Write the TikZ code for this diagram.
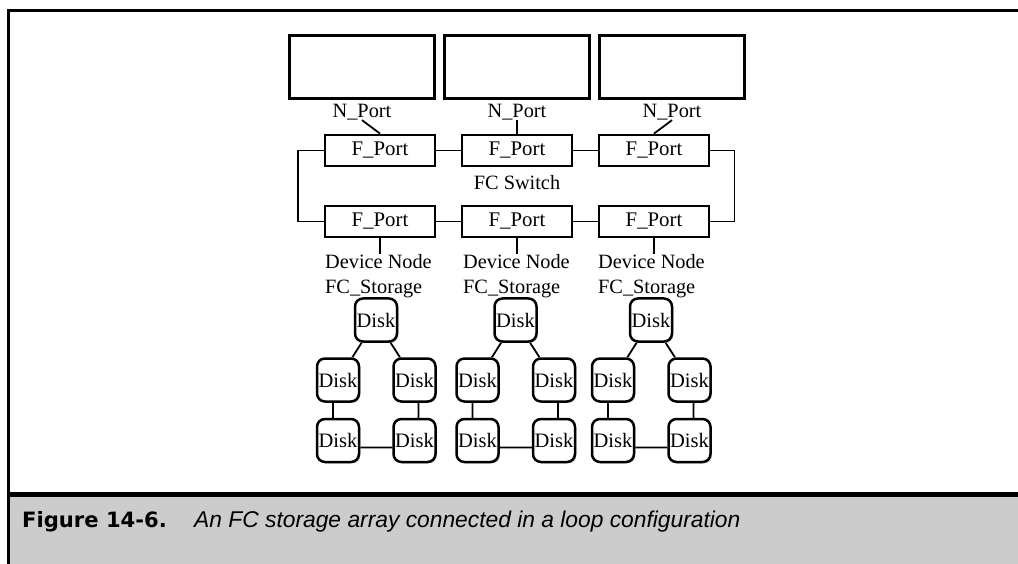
\documentclass[tikz,border=0pt]{standalone}
\usepackage{fontspec}
\setmainfont{Liberation Serif}
\setsansfont{Liberation Sans}
\newfontfamily\fignumfont{DejaVu Sans}
\usetikzlibrary{positioning,shadows}
\definecolor{bandgray}{RGB}{204,204,204}
\tikzset{
  fig/.style={x=1pt,y=-1pt},
  shade/.style={fill=white,drop shadow={shadow xshift=1.4pt,shadow yshift=-1.4pt,opacity=0.45}},
  host/.style={draw,shade,line width=2.4pt,minimum width=145pt,minimum height=63pt,inner sep=0pt},
  fport/.style={draw,shade,line width=2.8pt,minimum width=110pt,minimum height=31pt,inner sep=0pt,font=\fontsize{20.8}{24}\selectfont},
  disk/.style={draw,shade,line width=2.5pt,rounded corners=8pt,minimum width=42pt,minimum height=43pt,inner sep=0pt,font=\fontsize{20.5}{24}\selectfont},
  lbl/.style={inner sep=0pt,font=\fontsize{20.3}{25}\selectfont},
  wire/.style={line width=1.8pt},
  capfig/.style={inner sep=0pt,font=\fignumfont\bfseries\fontsize{21.1}{26}\selectfont},
  captext/.style={inner sep=0pt,font=\sffamily\itshape\fontsize{22.8}{26}\selectfont},
}
\begin{document}
\begin{tikzpicture}[fig]
\useasboundingbox (0,0) rectangle (1018,564);
% frame and caption band
\fill[bandgray] (8,497) rectangle (1018,564);
\draw[line width=3pt] (1018,11) -- (8,11) -- (8,564);
\draw[line width=5pt] (8,494.5) -- (1018,494.5);
% hosts, N_Ports and switch ports
\foreach \i/\hx/\fx in {1/362/380,2/517/517,3/672/654}{
  \node[host] (h\i) at (\hx,67) {};
  \node[lbl] (np\i) at (\hx,112) {N\_Port};
  \node[fport] (ft\i) at (\fx,150.5) {F\_Port};
  \node[fport] (fb\i) at (\fx,221.5) {F\_Port};
  \draw[wire] (np\i.south) -- (ft\i.north);
}
\draw[wire] (ft1.east) -- (ft2.west) (ft2.east) -- (ft3.west);
\draw[wire] (fb1.east) -- (fb2.west) (fb2.east) -- (fb3.west);
\draw[wire] (ft1.west) -- ++(-26,0) |- (fb1.west);
\draw[wire] (ft3.east) -- ++(24,0) |- (fb3.east);
\node[lbl] (sw) at (517,183) {FC Switch};
% storage devices, five disks each
\foreach \i/\dx/\tx in {1/325/376,2/463/515.5,3/598/651}{
  \node[lbl,align=left,anchor=north west] (dev\i) at (\dx,254) {Device Node\\FC\_Storage};
  \draw[wire] (fb\i.south) -- (fb\i.south |- dev\i.north);
  \node[disk] (dt\i) at (\tx,320) {Disk};
  \node[disk] (dml\i) at (\tx-38,380) {Disk};
  \node[disk] (dmr\i) at (\tx+38.5,380) {Disk};
  \node[disk] (dbl\i) at (\tx-38,440.5) {Disk};
  \node[disk] (dbr\i) at (\tx+38.5,440.5) {Disk};
  \draw[wire] (dt\i) -- (dml\i) (dt\i) -- (dmr\i)
    ([xshift=-5pt]dml\i.south) -- ([xshift=-5pt]dbl\i.north)
    ([xshift=4pt]dmr\i.south) -- ([xshift=4pt]dbr\i.north)
    ([yshift=-7pt]dbl\i.east) -- ([yshift=-7pt]dbr\i.west);
}
% caption
\node[capfig,anchor=base west] (fignum) at (22,527) {Figure 14-6.};
\node[captext,anchor=base west] (figtitle) at (194,527) {An FC storage array connected in a loop configuration};
\end{tikzpicture}
\end{document}
